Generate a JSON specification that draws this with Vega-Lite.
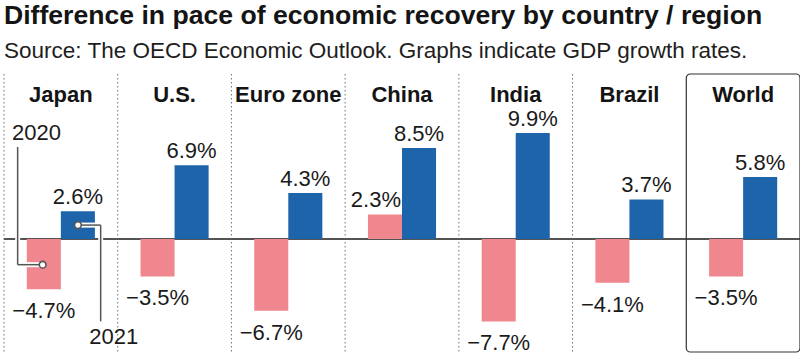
{
  "$schema": "https://vega.github.io/schema/vega-lite/v6.json",
  "width": 796,
  "height": 278,
  "padding": {"left": 3, "top": 3, "right": 1, "bottom": 2},
  "background": "white",
  "config": {"view": {"stroke": null}, "font": "Liberation Sans"},
  "title": {
    "text": "Difference in pace of economic recovery by country / region",
    "subtitle": "Source: The OECD Economic Outlook. Graphs indicate GDP growth rates.",
    "anchor": "start",
    "frame": "group",
    "font": "Liberation Sans",
    "fontSize": 26.6,
    "fontWeight": "bold",
    "color": "#141414",
    "subtitleFont": "Liberation Sans",
    "subtitleFontSize": 22.5,
    "subtitleColor": "#1e1e1e",
    "subtitlePadding": 10,
    "offset": 11
  },
  "datasets": {
    "growth": [
      {"country": "Japan", "year": "2020", "value": -4.7, "label": "−4.7%"},
      {"country": "Japan", "year": "2021", "value": 2.6, "label": "2.6%"},
      {"country": "U.S.", "year": "2020", "value": -3.5, "label": "−3.5%"},
      {"country": "U.S.", "year": "2021", "value": 6.9, "label": "6.9%"},
      {"country": "Euro zone", "year": "2020", "value": -6.7, "label": "−6.7%"},
      {"country": "Euro zone", "year": "2021", "value": 4.3, "label": "4.3%"},
      {"country": "China", "year": "2020", "value": 2.3, "label": "2.3%"},
      {"country": "China", "year": "2021", "value": 8.5, "label": "8.5%"},
      {"country": "India", "year": "2020", "value": -7.7, "label": "−7.7%"},
      {"country": "India", "year": "2021", "value": 9.9, "label": "9.9%"},
      {"country": "Brazil", "year": "2020", "value": -4.1, "label": "−4.1%"},
      {"country": "Brazil", "year": "2021", "value": 3.7, "label": "3.7%"},
      {"country": "World", "year": "2020", "value": -3.5, "label": "−3.5%"},
      {"country": "World", "year": "2021", "value": 5.8, "label": "5.8%"}
    ],
    "notes": [
      {"kind": "line", "x": 0.12, "y": 8.6, "x2": 0.12, "y2": -2.4},
      {"kind": "line", "x": 0.12, "y": -2.4, "x2": 0.34, "y2": -2.4},
      {"kind": "line", "x": 0.65, "y": 1.3, "x2": 0.85, "y2": 1.3},
      {"kind": "line", "x": 0.85, "y": 1.3, "x2": 0.85, "y2": -7.7},
      {"kind": "dot", "x": 0.34, "y": -2.4},
      {"kind": "dot", "x": 0.65, "y": 1.3},
      {"kind": "text", "x": 0.07, "y": 9.25, "label": "2020"},
      {"kind": "text", "x": 0.75, "y": -9.8, "label": "2021"}
    ]
  },
  "layer": [
    {
      "data": {"name": "growth"},
      "layer": [
        {
          "transform": [{"filter": "datum.year == '2020' && datum.country != 'World'"}],
          "mark": {"type": "rule", "color": "#6e6e6e", "strokeWidth": 1, "strokeDash": [1.5, 2.5]},
          "encoding": {
            "x": {
              "field": "country",
              "type": "nominal",
              "sort": null,
              "bandPosition": 0,
              "scale": {"domain": ["Japan", "U.S.", "Euro zone", "China", "India", "Brazil", "World"], "paddingInner": 0, "paddingOuter": 0},
              "axis": {
                "orient": "top",
                "title": null,
                "domain": false,
                "ticks": false,
                "labelAngle": 0,
                "labelFont": "Liberation Sans",
                "labelFontSize": 22,
                "labelFontWeight": "bold",
                "labelColor": "#141414",
                "labelBaseline": "alphabetic",
                "labelPadding": -27
              }
            }
          }
        },
        {
          "mark": {"type": "rule", "color": "#555555", "strokeWidth": 1.5},
          "encoding": {"y": {"datum": 0, "type": "quantitative", "scale": {"domain": [-10.56, 15.42], "nice": false, "zero": false}, "axis": null}}
        },
        {
          "transform": [{"filter": "datum.year == '2020' && datum.country == 'World'"}],
          "mark": {"type": "rect", "filled": false, "stroke": "#333333", "strokeWidth": 1.2, "cornerRadius": 4},
          "encoding": {
            "x": {"field": "country", "type": "nominal", "sort": null}
          }
        },
        {
          "mark": {"type": "bar"},
          "encoding": {
            "x": {"field": "country", "type": "nominal", "sort": null},
            "xOffset": {"field": "year", "type": "nominal", "scale": {"paddingInner": 0, "paddingOuter": 0.67}},
            "y": {"field": "value", "type": "quantitative", "scale": {"domain": [-10.56, 15.42], "nice": false, "zero": false}, "axis": null},
            "color": {"field": "year", "type": "nominal", "scale": {"domain": ["2020", "2021"], "range": ["#f0868e", "#1e64aa"]}, "legend": null}
          }
        },
        {
          "transform": [{"filter": "datum.value > 0 && !(datum.country == 'China' && datum.year == '2020')"}],
          "mark": {"type": "text", "fontSize": 22, "font": "Liberation Sans", "color": "#1a1a1a", "baseline": "alphabetic", "dy": -7},
          "encoding": {
            "x": {"field": "country", "type": "nominal", "sort": null},
            "xOffset": {"field": "year", "type": "nominal"},
            "y": {"field": "value", "type": "quantitative"},
            "text": {"field": "label"}
          }
        },
        {
          "transform": [{"filter": "datum.country == 'China' && datum.year == '2020'"}],
          "mark": {"type": "text", "fontSize": 22, "font": "Liberation Sans", "color": "#1a1a1a", "baseline": "alphabetic", "align": "right", "dy": -7, "dx": 16},
          "encoding": {
            "x": {"field": "country", "type": "nominal", "sort": null},
            "xOffset": {"field": "year", "type": "nominal"},
            "y": {"field": "value", "type": "quantitative"},
            "text": {"field": "label"}
          }
        },
        {
          "transform": [{"filter": "datum.value < 0"}],
          "mark": {"type": "text", "fontSize": 22, "font": "Liberation Sans", "color": "#1a1a1a", "baseline": "alphabetic", "dy": 29},
          "encoding": {
            "x": {"field": "country", "type": "nominal", "sort": null},
            "xOffset": {"field": "year", "type": "nominal"},
            "y": {"field": "value", "type": "quantitative"},
            "text": {"field": "label"}
          }
        }
      ]
    },
    {
      "data": {"name": "notes"},
      "layer": [
        {
          "transform": [{"filter": "datum.kind == 'line'"}],
          "mark": {"type": "rule", "color": "white", "strokeWidth": 5},
          "encoding": {
            "x": {"field": "x", "type": "quantitative", "scale": {"domain": [0, 7], "nice": false, "zero": false}, "axis": null},
            "y": {"field": "y", "type": "quantitative"},
            "x2": {"field": "x2"},
            "y2": {"field": "y2"}
          }
        },
        {
          "transform": [{"filter": "datum.kind == 'line'"}],
          "mark": {"type": "rule", "color": "#555555", "strokeWidth": 1.5},
          "encoding": {
            "x": {"field": "x", "type": "quantitative"},
            "y": {"field": "y", "type": "quantitative"},
            "x2": {"field": "x2"},
            "y2": {"field": "y2"}
          }
        },
        {
          "transform": [{"filter": "datum.kind == 'dot'"}],
          "mark": {"type": "point", "filled": true, "fill": "white", "stroke": "#555555", "strokeWidth": 1.6, "size": 45, "opacity": 1},
          "encoding": {
            "x": {"field": "x", "type": "quantitative"},
            "y": {"field": "y", "type": "quantitative"}
          }
        },
        {
          "transform": [{"filter": "datum.kind == 'text'"}],
          "mark": {"type": "text", "fontSize": 22, "font": "Liberation Sans", "color": "#1a1a1a", "align": "left", "baseline": "alphabetic"},
          "encoding": {
            "x": {"field": "x", "type": "quantitative"},
            "y": {"field": "y", "type": "quantitative"},
            "text": {"field": "label"}
          }
        }
      ]
    }
  ],
  "resolve": {"scale": {"x": "independent"}, "axis": {"x": "independent"}}
}
